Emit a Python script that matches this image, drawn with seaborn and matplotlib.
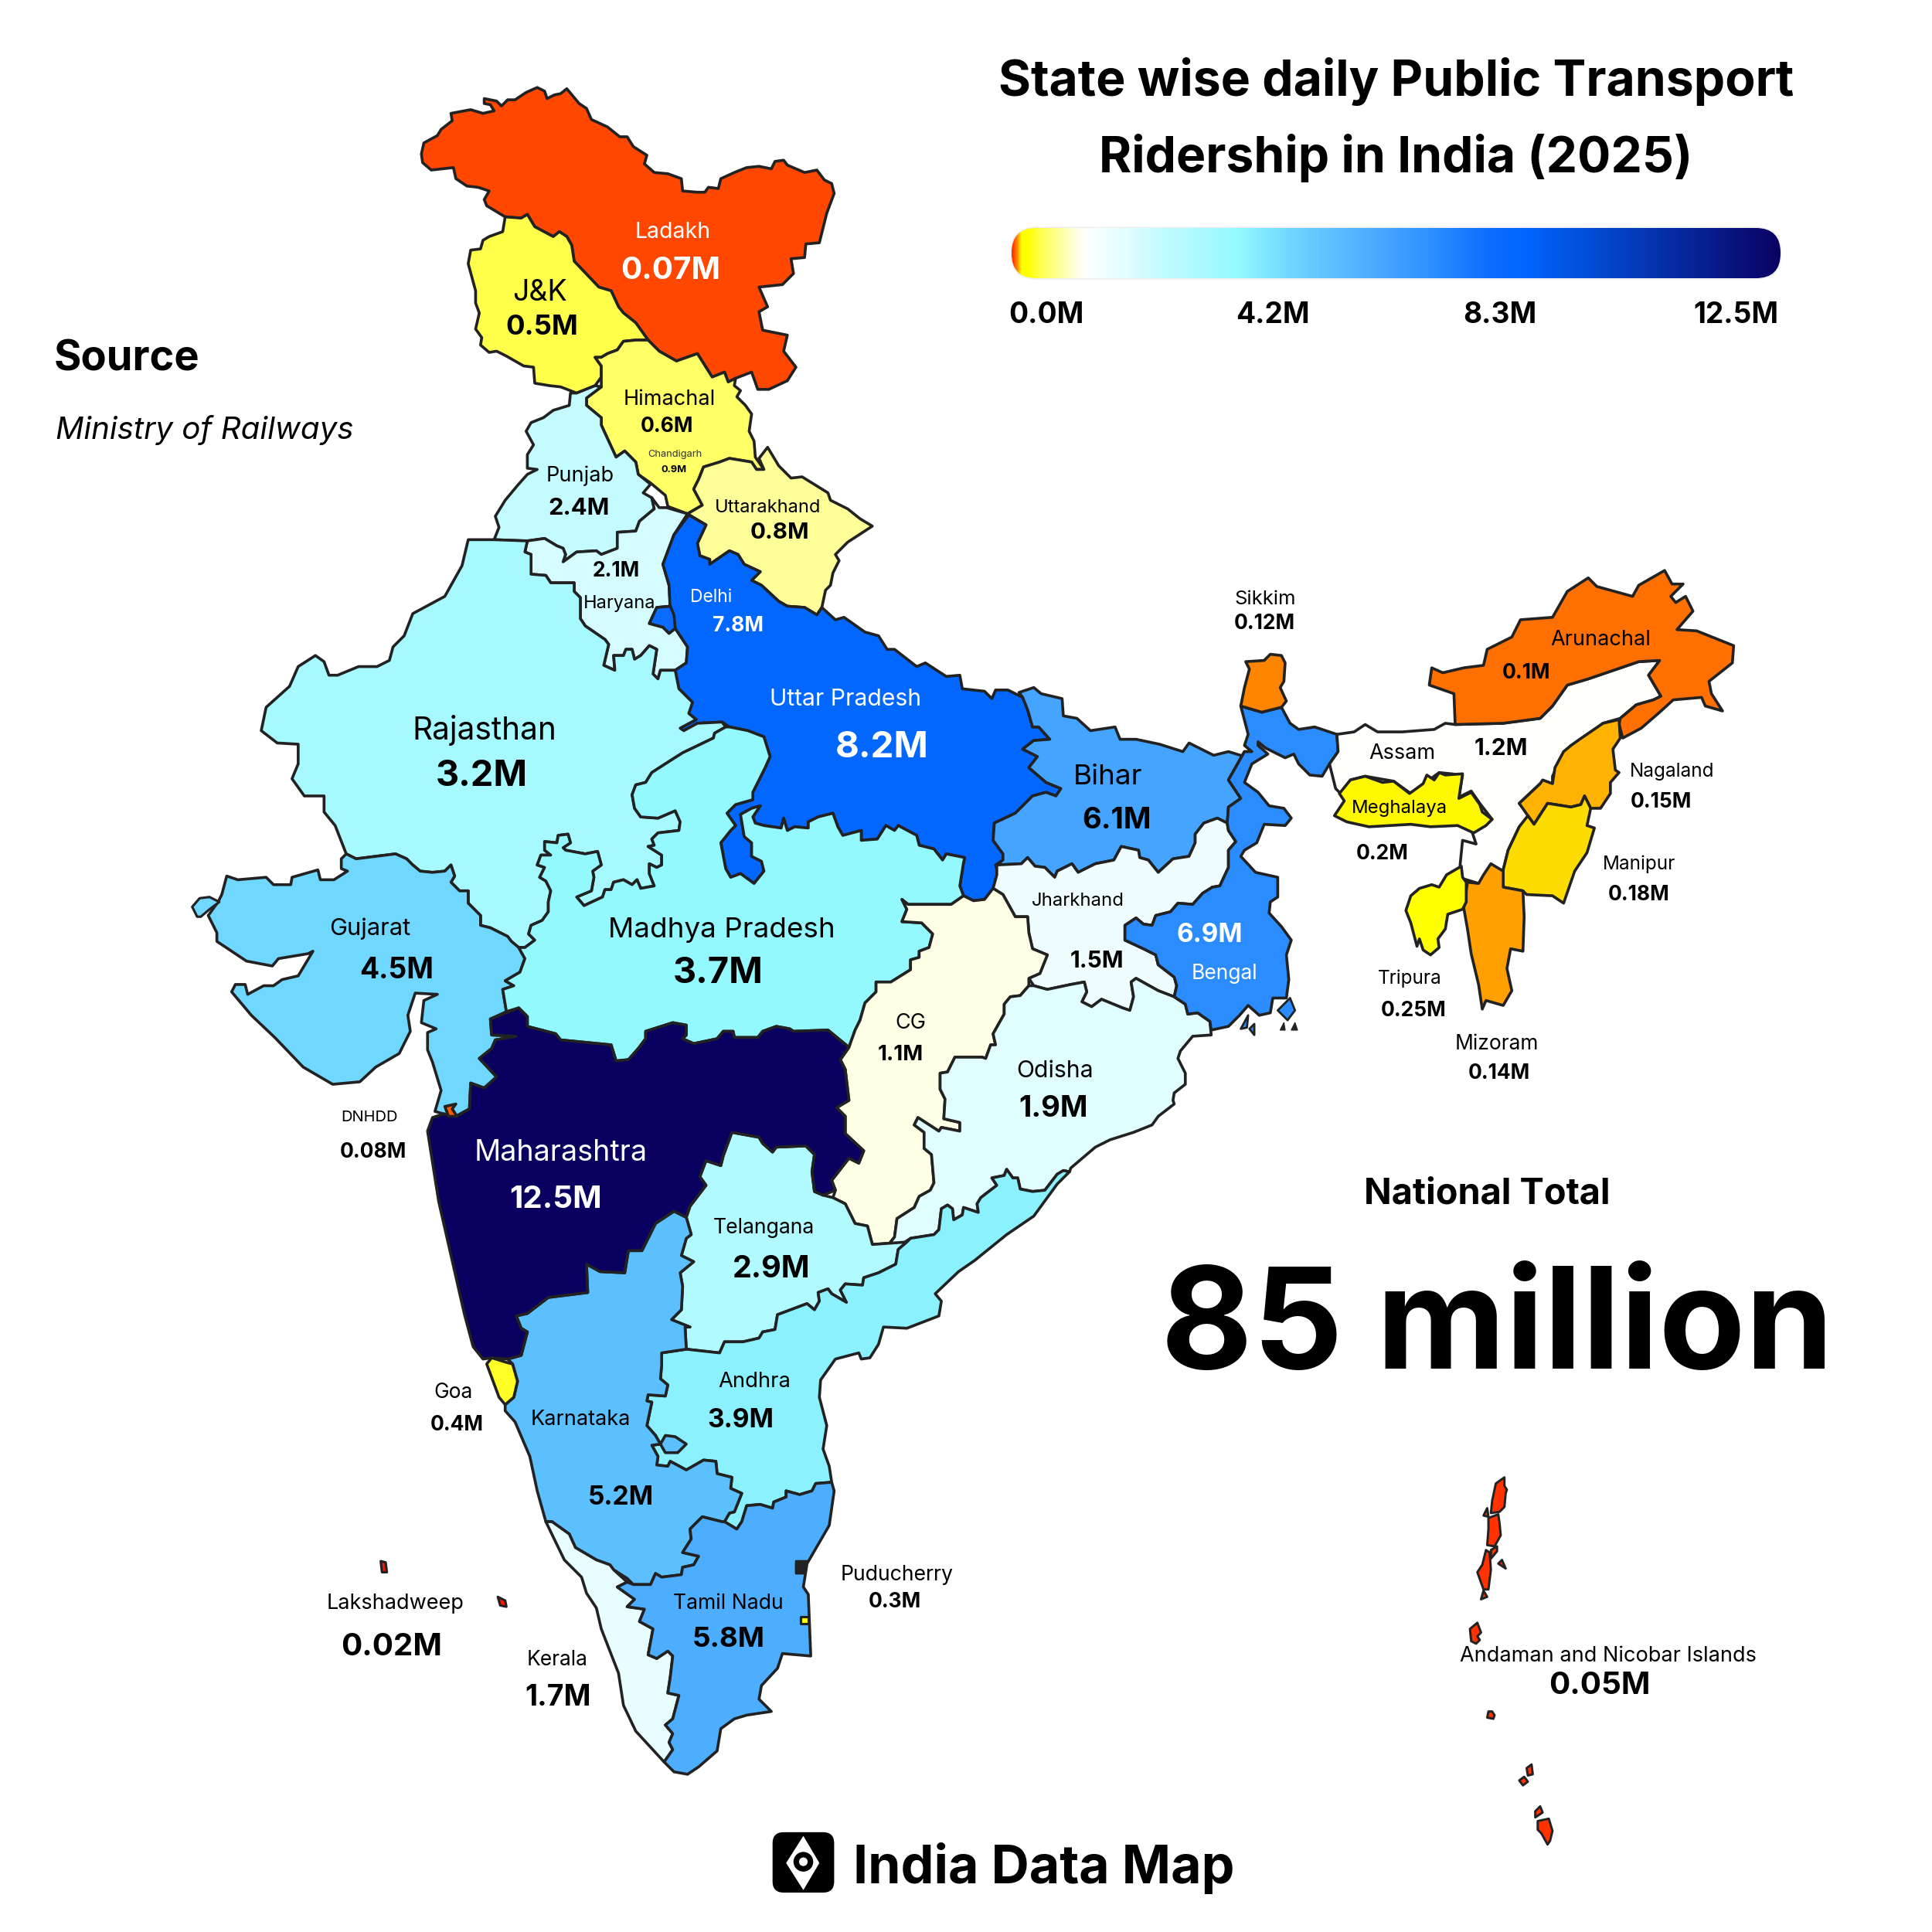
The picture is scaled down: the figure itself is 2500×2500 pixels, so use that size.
import matplotlib
matplotlib.use("Agg")
import matplotlib.pyplot as plt
import numpy as np
import seaborn as sns
from matplotlib.colors import LinearSegmentedColormap, Normalize
from matplotlib.patches import Circle, FancyBboxPatch, Polygon

# state outlines (map units, y grows downward)
LADAKH = [(342,125),(344,116),(355,110),(358,105),(367,98),(366,92),(382,89),(392,92),(401,90),(398,85),(393,84),(393,80),(403,82),(407,86),(412,81),(418,81),(427,75),(436,71),(442,74),(444,80),(450,77),(455,76),(460,72),(470,84),(476,88),(480,97),(493,103),(503,111),(509,111),(514,119),(525,126),(523,133),(531,140),(542,141),(553,145),(554,155),(566,156),(572,156),(575,152),(583,153),(585,145),(596,140),(606,136),(616,135),(626,137),(629,131),(636,130),(639,134),(653,140),(663,138),(669,146),(675,149),(677,157),(671,173),(665,197),(654,198),(653,209),(642,210),(644,222),(635,231),(616,233),(623,249),(616,253),(619,268),(639,272),(636,285),(646,298),(639,309),(624,316),(615,316),(610,302),(597,307),(591,310),(588,302),(578,306),(566,287),(549,293),(535,285),(526,276),(516,262),(506,254),(502,249),(496,236),(486,233),(466,212),(464,199),(460,192),(454,188),(449,192),(434,184),(428,174),(423,177),(410,176),(395,167),(393,162),(397,155),(388,152),(379,151),(370,145),(368,136),(359,137),(350,138),(343,132)]
JK = [(410,176),(423,177),(428,174),(434,184),(449,192),(454,188),(460,192),(464,199),(466,212),(486,233),(496,236),(502,249),(506,254),(516,262),(526,276),(516,276),(506,277),(501,284),(493,287),(488,290),(483,290),(488,297),(488,306),(483,313),(468,319),(455,314),(446,313),(434,311),(433,298),(425,297),(411,289),(403,285),(397,286),(390,280),(391,274),(386,267),(389,254),(386,246),(386,236),(380,214),(382,203),(390,202),(392,195),(397,192),(408,188)]
HIMACHAL = [(526,276),(535,285),(549,293),(566,287),(578,306),(588,302),(591,310),(597,307),(596,313),(601,317),(598,322),(605,329),(610,336),(608,350),(612,358),(613,371),(620,381),(614,381),(610,375),(592,372),(584,375),(571,379),(567,389),(563,397),(570,410),(558,417),(542,411),(540,402),(528,392),(518,385),(516,375),(507,366),(500,371),(494,358),(488,345),(488,339),(476,329),(476,323),(488,314),(488,306),(488,297),(483,290),(488,290),(493,287),(501,284),(506,277),(516,276)]
PUNJAB = [(463,319),(462,329),(449,333),(441,339),(431,343),(427,350),(433,361),(428,369),(428,380),(436,381),(428,385),(420,394),(410,406),(402,419),(405,428),(401,438),(428,439),(442,437),(452,443),(457,445),(459,450),(457,456),(468,448),(484,447),(488,450),(501,445),(501,432),(516,431),(519,423),(531,413),(529,404),(522,400),(528,393),(518,385),(516,375),(507,366),(500,371),(494,358),(488,345),(488,339),(476,329),(476,323),(488,314),(483,313),(468,319)]
HARYANA = [(428,439),(442,437),(452,443),(457,445),(459,450),(457,456),(468,448),(484,447),(488,450),(501,445),(501,432),(516,431),(519,423),(531,413),(529,404),(535,412),(541,412),(558,417),(547,434),(538,458),(543,475),(544,492),(533,493),(527,506),(538,509),(543,514),(548,510),(558,525),(557,538),(548,544),(536,544),(534,551),(530,547),(533,527),(527,524),(520,532),(515,535),(513,527),(508,527),(506,532),(498,532),(499,544),(490,540),(494,523),(491,519),(475,508),(471,502),(471,485),(466,480),(466,473),(447,473),(443,467),(431,466),(431,450),(426,448)]
UTTARAKHAND = [(620,381),(616,372),(623,363),(632,378),(642,388),(651,387),(672,400),(674,406),(688,413),(698,421),(708,427),(688,440),(678,450),(681,455),(676,465),(674,475),(670,479),(667,493),(663,499),(653,493),(639,492),(632,488),(618,475),(610,471),(617,464),(604,458),(599,450),(592,447),(576,458),(576,454),(568,451),(566,441),(573,426),(558,417),(570,410),(563,397),(567,389),(571,379),(584,375),(592,372),(610,375),(614,381)]
UTTAR_PRADESH = [(559,418),(573,426),(566,441),(568,451),(576,454),(576,458),(592,447),(599,450),(604,458),(617,464),(610,471),(618,475),(632,488),(639,492),(653,493),(663,499),(667,493),(678,503),(685,501),(702,513),(713,516),(720,527),(726,527),(744,541),(751,538),(768,549),(779,548),(781,559),(799,561),(805,567),(808,560),(818,560),(830,566),(834,576),(838,590),(843,590),(852,600),(839,601),(830,608),(842,614),(835,623),(849,635),(861,640),(857,646),(849,643),(838,646),(824,660),(807,668),(806,682),(814,693),(814,698),(808,702),(810,709),(807,720),(799,730),(790,731),(782,727),(779,719),(782,700),(783,696),(768,693),(765,698),(758,689),(746,686),(744,678),(729,670),(726,674),(719,670),(712,681),(699,682),(699,674),(684,678),(680,671),(676,660),(664,663),(656,667),(656,672),(645,671),(639,674),(636,664),(634,672),(620,670),(613,668),(611,663),(617,654),(610,656),(601,661),(604,679),(610,684),(610,695),(618,699),(620,707),(612,717),(601,709),(593,712),(589,705),(585,684),(593,674),(597,670),(590,660),(597,653),(611,649),(611,643),(621,623),(625,614),(620,598),(607,593),(592,590),(586,586),(566,587),(555,593),(552,591),(565,584),(559,579),(562,570),(551,559),(548,544),(557,538),(558,525),(548,510),(544,497),(543,475),(538,458),(547,434)]
DELHI = [(544,492),(533,493),(527,506),(538,509),(543,514),(548,510),(547,499)]
RAJASTHAN = [(380,438),(401,438),(428,439),(426,448),(431,450),(431,466),(443,467),(447,473),(466,473),(466,480),(471,485),(471,502),(475,508),(491,519),(494,523),(490,540),(499,544),(498,532),(506,532),(508,527),(513,527),(515,535),(520,532),(527,524),(533,527),(530,547),(534,551),(536,544),(548,544),(551,559),(562,570),(559,579),(565,584),(552,591),(555,593),(566,587),(586,586),(589,590),(580,595),(579,599),(554,611),(543,618),(529,627),(524,635),(516,637),(513,645),(515,656),(520,663),(534,664),(548,658),(552,667),(551,674),(534,676),(529,681),(531,686),(526,687),(537,694),(537,702),(533,704),(527,701),(527,709),(531,719),(520,721),(517,714),(513,718),(506,714),(498,716),(496,722),(491,722),(489,728),(474,735),(468,728),(480,723),(482,712),(481,707),(488,702),(485,691),(475,693),(459,690),(457,688),(463,684),(461,677),(453,678),(452,684),(442,683),(442,690),(447,694),(439,694),(436,702),(442,704),(438,712),(443,715),(447,723),(445,732),(445,740),(440,747),(431,751),(429,758),(434,763),(426,769),(421,769),(415,764),(412,760),(398,753),(390,751),(390,743),(380,733),(380,723),(373,723),(366,716),(369,711),(366,702),(361,707),(351,708),(341,707),(335,702),(330,697),(321,693),(305,695),(289,697),(281,693),(272,670),(263,659),(263,646),(247,646),(237,632),(242,620),(242,604),(225,603),(212,593),(216,574),(235,557),(242,541),(256,532),(263,537),(267,548),(274,548),(291,541),(306,541),(316,536),(319,525),(328,516),(335,498),(361,484),(375,459)]
GUJARAT = [(281,693),(277,697),(277,705),(282,707),(271,714),(260,714),(258,706),(237,712),(236,718),(222,718),(216,712),(193,714),(184,711),(180,726),(177,732),(169,743),(176,757),(176,764),(200,780),(221,784),(226,778),(250,774),(254,772),(242,792),(229,795),(222,800),(214,800),(201,807),(199,799),(191,799),(188,805),(204,824),(223,842),(246,866),(270,880),(292,878),(305,866),(324,855),(333,837),(331,824),(337,806),(355,807),(344,812),(342,830),(354,835),(347,838),(347,852),(351,862),(358,885),(353,902),(360,904),(370,906),(381,900),(382,879),(393,883),(403,874),(389,859),(399,851),(402,844),(419,841),(399,840),(398,827),(411,821),(408,803),(417,800),(410,796),(422,789),(426,778),(421,769),(415,764),(412,760),(398,753),(390,751),(390,743),(380,733),(380,723),(373,723),(366,716),(369,711),(366,702),(361,707),(351,708),(341,707),(335,702),(330,697),(321,693),(305,695),(289,697)]
KUTCH_ISLETS = [(156,736),(162,729),(170,728),(178,732),(170,738),(163,744),(160,744)]
MADHYA_PRADESH = [(421,769),(426,769),(434,763),(429,758),(431,751),(440,747),(445,740),(445,732),(447,723),(443,715),(438,712),(442,704),(436,702),(439,694),(447,694),(442,690),(442,683),(452,684),(453,678),(461,677),(463,684),(457,688),(459,690),(475,693),(485,691),(488,702),(481,707),(482,712),(480,723),(468,728),(474,735),(489,728),(491,722),(496,722),(498,716),(506,714),(513,718),(517,714),(520,721),(531,719),(527,709),(527,701),(533,704),(537,702),(537,694),(526,687),(531,686),(529,681),(534,676),(551,674),(552,667),(548,658),(534,664),(520,663),(515,656),(513,645),(516,637),(524,635),(529,627),(543,618),(554,611),(579,599),(580,595),(589,590),(592,590),(607,593),(620,598),(625,614),(621,623),(611,643),(611,649),(597,653),(590,660),(597,670),(593,674),(585,684),(589,705),(593,712),(601,709),(612,717),(620,707),(618,699),(610,695),(610,684),(604,679),(601,661),(610,656),(617,654),(611,663),(613,668),(620,670),(634,672),(636,664),(639,674),(645,671),(656,672),(656,667),(664,663),(676,660),(680,671),(684,678),(699,674),(699,682),(712,681),(719,670),(726,674),(729,670),(744,678),(746,686),(758,689),(765,698),(768,693),(783,696),(782,700),(779,719),(782,727),(772,734),(737,734),(732,730),(736,738),(732,748),(748,749),(757,758),(754,769),(746,772),(746,777),(739,779),(739,787),(723,797),(711,797),(711,805),(702,814),(698,828),(694,836),(689,850),(672,836),(644,837),(641,835),(630,833),(619,837),(615,842),(596,842),(595,837),(587,837),(582,843),(563,847),(554,843),(557,840),(557,832),(546,830),(524,837),(524,843),(518,851),(510,860),(500,861),(496,848),(455,844),(451,839),(428,833),(428,825),(421,818),(411,821),(408,803),(417,800),(410,796),(422,789),(426,778)]
BIHAR = [(827,562),(839,558),(845,563),(862,567),(863,581),(874,583),(885,593),(905,590),(909,600),(922,600),(941,604),(960,610),(965,603),(985,613),(997,610),(1010,614),(1017,610),(1010,610),(997,633),(1007,648),(997,655),(996,668),(988,664),(977,668),(970,677),(970,684),(965,695),(952,697),(940,708),(932,698),(925,696),(924,690),(910,687),(904,698),(889,701),(875,708),(870,701),(858,707),(856,712),(848,704),(840,703),(834,696),(829,701),(809,702),(814,698),(814,693),(806,682),(807,668),(824,660),(838,646),(849,643),(857,646),(861,640),(849,635),(835,623),(842,614),(830,608),(839,601),(852,600),(843,590),(838,590),(834,576),(830,566)]
JHARKHAND = [(809,702),(829,701),(834,696),(840,703),(848,704),(856,712),(858,707),(870,701),(875,708),(889,701),(904,698),(910,687),(924,690),(925,696),(932,698),(940,708),(952,697),(965,695),(970,684),(970,677),(977,668),(988,664),(996,668),(997,674),(1003,683),(997,690),(997,704),(990,719),(984,720),(976,725),(968,734),(956,733),(950,740),(938,743),(935,751),(928,750),(922,745),(913,751),(913,763),(928,770),(938,775),(940,783),(953,793),(955,800),(953,809),(940,804),(922,794),(918,797),(920,809),(917,820),(911,818),(894,811),(886,817),(878,813),(882,805),(880,797),(869,799),(850,803),(839,800),(835,794),(844,790),(850,775),(838,770),(835,757),(834,744),(824,744),(814,726),(806,721),(809,710)]
CHHATTISGARH = [(772,734),(782,727),(790,731),(799,730),(806,721),(814,726),(824,744),(834,744),(835,757),(838,770),(850,775),(844,790),(835,794),(835,800),(828,808),(820,809),(815,815),(815,823),(806,839),(808,848),(804,848),(800,859),(797,858),(775,858),(769,870),(763,871),(763,884),(767,892),(766,908),(779,911),(779,918),(764,915),(762,918),(745,907),(742,913),(750,919),(750,932),(756,937),(758,960),(755,966),(746,971),(742,980),(728,989),(726,1004),(722,1009),(708,1010),(704,995),(694,993),(686,977),(676,972),(678,966),(675,958),(689,940),(697,944),(701,934),(686,920),(686,906),(679,899),(689,893),(686,868),(682,860),(689,850),(694,836),(698,828),(702,814),(711,805),(711,797),(723,797),(739,787),(739,779),(746,777),(746,772),(754,769),(757,758),(748,749),(732,748),(736,738),(732,730),(737,734)]
ODISHA = [(839,800),(850,803),(869,799),(880,797),(882,805),(878,813),(886,817),(894,811),(911,818),(917,820),(920,809),(918,797),(922,794),(940,804),(953,809),(962,815),(964,823),(972,822),(982,829),(983,840),(968,841),(958,853),(956,859),(962,871),(962,880),(953,887),(952,893),(953,896),(940,906),(935,913),(920,919),(901,925),(889,931),(869,948),(868,951),(863,950),(858,953),(848,966),(838,967),(828,965),(826,956),(822,956),(817,949),(815,954),(805,956),(809,962),(796,972),(793,977),(794,984),(782,980),(781,986),(774,990),(773,981),(769,978),(764,981),(762,998),(758,1002),(739,1005),(733,1009),(722,1009),(726,1004),(728,989),(742,980),(746,971),(755,966),(758,960),(756,937),(750,932),(750,919),(742,913),(745,907),(762,918),(764,915),(779,918),(779,911),(766,908),(767,892),(763,884),(763,871),(769,870),(775,858),(797,858),(800,859),(804,848),(808,848),(806,839),(815,823),(815,815),(820,809),(828,808),(835,800)]
WEST_BENGAL = [(1007,573),(1024,578),(1040,574),(1047,587),(1054,592),(1067,590),(1085,596),(1086,610),(1079,620),(1073,630),(1063,629),(1054,620),(1050,612),(1043,615),(1027,607),(1021,602),(1021,605),(1029,612),(1016,620),(1010,635),(1021,643),(1030,654),(1042,656),(1048,664),(1043,670),(1026,669),(1020,684),(1010,690),(1007,695),(1019,708),(1037,712),(1037,728),(1031,732),(1030,741),(1040,752),(1048,763),(1044,775),(1046,795),(1044,810),(1033,810),(1031,822),(1022,824),(1013,816),(1006,824),(997,833),(983,836),(982,829),(972,822),(964,823),(962,815),(953,809),(955,800),(953,793),(940,783),(938,775),(928,770),(913,763),(913,751),(922,745),(928,750),(935,751),(938,743),(950,740),(956,733),(968,734),(976,725),(984,720),(990,719),(997,704),(997,690),(1003,683),(997,674),(996,668),(997,655),(1007,648),(997,633),(1010,610),(1016,610),(1010,605),(1013,596)]
BENGAL_ISLETS = [[(1037,820),(1047,810),(1051,820),(1045,828)], [(1007,835),(1013,824),(1012,834)], [(1014,835),(1018,831),(1018,840)]]
BENGAL_SPECKS = [[(1039,836),(1042,830),(1043,836)], [(1048,836),(1051,830),(1053,836)]]
SIKKIM = [(1011,537),(1026,536),(1031,531),(1040,532),(1043,538),(1042,553),(1039,558),(1044,569),(1040,574),(1024,578),(1007,573),(1010,558),(1014,543)]
ASSAM = [(1085,596),(1099,594),(1108,588),(1118,594),(1138,594),(1151,593),(1164,592),(1173,587),(1181,588),(1220,587),(1250,583),(1260,573),(1272,556),(1289,551),(1330,537),(1347,536),(1338,548),(1348,565),(1342,568),(1328,572),(1315,583),(1301,587),(1282,602),(1275,605),(1266,617),(1260,630),(1260,636),(1250,636),(1233,652),(1241,662),(1233,671),(1224,690),(1220,706),(1210,706),(1200,717),(1187,713),(1185,702),(1187,682),(1198,685),(1195,676),(1211,665),(1201,652),(1194,642),(1184,647),(1187,629),(1168,627),(1145,644),(1131,634),(1108,630),(1096,633),(1088,644),(1084,640),(1079,620),(1086,610)]
ARUNACHAL = [(1181,588),(1180,563),(1160,556),(1162,542),(1171,546),(1188,542),(1204,540),(1207,527),(1227,517),(1234,503),(1260,501),(1272,480),(1289,469),(1296,476),(1325,484),(1330,475),(1351,463),(1357,474),(1366,474),(1356,484),(1360,489),(1368,484),(1374,496),(1361,511),(1377,512),(1407,524),(1406,538),(1387,553),(1389,563),(1398,577),(1384,573),(1381,566),(1358,568),(1347,578),(1332,591),(1317,599),(1314,588),(1315,583),(1328,572),(1342,568),(1348,565),(1338,548),(1347,536),(1330,537),(1289,551),(1272,556),(1260,573),(1250,583),(1220,587)]
NAGALAND = [(1314,584),(1315,599),(1309,608),(1311,625),(1314,627),(1307,635),(1307,644),(1299,656),(1291,656),(1286,646),(1283,653),(1275,655),(1256,652),(1245,669),(1240,662),(1233,652),(1250,636),(1252,633),(1260,636),(1262,623),(1269,610),(1275,605),(1282,600),(1301,587)]
MANIPUR = [(1256,652),(1275,655),(1283,653),(1286,646),(1291,656),(1288,670),(1294,672),(1288,692),(1278,707),(1269,733),(1260,727),(1239,726),(1236,723),(1220,720),(1220,706),(1224,690),(1233,671),(1240,662),(1245,669)]
MIZORAM = [(1220,707),(1220,720),(1236,723),(1237,744),(1236,772),(1226,770),(1223,786),(1227,804),(1220,816),(1206,812),(1203,819),(1200,799),(1194,774),(1191,754),(1188,737),(1191,716),(1200,717),(1204,710),(1210,701)]
TRIPURA = [(1186,703),(1187,712),(1190,716),(1190,732),(1187,738),(1175,742),(1173,754),(1167,762),(1168,769),(1161,775),(1155,771),(1152,762),(1150,768),(1145,749),(1141,739),(1145,727),(1152,721),(1162,718),(1168,720),(1174,710)]
MEGHALAYA = [(1083,662),(1091,650),(1087,644),(1096,633),(1108,630),(1122,635),(1131,634),(1144,644),(1155,636),(1158,629),(1164,633),(1168,627),(1173,629),(1187,628),(1184,648),(1194,643),(1201,653),(1203,659),(1211,665),(1206,670),(1196,676),(1183,670),(1161,671),(1145,669),(1111,671),(1093,667)]
MAHARASHTRA = [(398,827),(421,818),(428,825),(428,833),(451,839),(455,844),(496,848),(500,861),(510,860),(518,851),(524,843),(524,837),(546,830),(557,832),(557,840),(554,843),(563,847),(582,843),(587,837),(595,837),(596,842),(615,842),(619,837),(630,833),(641,835),(644,837),(672,836),(689,850),(682,860),(686,868),(689,893),(679,899),(686,906),(686,920),(701,934),(697,944),(689,940),(675,958),(678,966),(668,970),(661,967),(659,951),(661,937),(654,930),(630,931),(627,935),(619,928),(616,923),(594,919),(587,938),(585,946),(573,942),(568,955),(573,962),(560,979),(557,988),(547,983),(532,993),(521,1015),(510,1015),(507,1033),(487,1032),(476,1026),(477,1049),(445,1053),(428,1066),(419,1068),(423,1078),(428,1081),(423,1100),(412,1103),(399,1102),(392,1103),(384,1093),(377,1067),(356,975),(347,918),(351,907),(360,904),(370,906),(381,900),(382,879),(393,883),(403,874),(389,859),(399,851),(402,844),(419,841),(399,840)]
TELANGANA = [(594,919),(616,923),(619,928),(627,935),(630,931),(654,930),(661,937),(659,951),(661,967),(668,970),(676,972),(686,977),(694,993),(704,995),(708,1010),(722,1009),(736,1008),(729,1014),(727,1026),(713,1033),(701,1037),(700,1043),(686,1042),(682,1047),(687,1057),(675,1050),(672,1046),(664,1049),(665,1056),(661,1063),(655,1058),(631,1067),(629,1079),(619,1081),(616,1086),(603,1089),(588,1089),(584,1098),(557,1095),(556,1077),(560,1077),(545,1071),(553,1063),(554,1044),(552,1033),(563,1024),(553,1019),(557,1005),(561,1002),(557,988),(560,979),(573,962),(568,955),(573,942),(585,946),(587,938)]
ANDHRA = [(736,1008),(739,1005),(758,1002),(762,998),(764,981),(769,978),(773,981),(774,990),(781,986),(782,980),(794,984),(793,977),(796,972),(809,962),(805,956),(815,954),(817,949),(822,956),(826,956),(828,965),(838,967),(848,966),(858,953),(863,950),(868,951),(858,961),(839,987),(817,1002),(791,1023),(778,1032),(759,1050),(764,1056),(762,1068),(736,1078),(717,1077),(713,1091),(706,1102),(699,1103),(697,1098),(678,1103),(666,1120),(665,1134),(671,1157),(668,1176),(673,1190),(675,1203),(662,1204),(659,1210),(649,1213),(638,1210),(638,1215),(628,1219),(627,1224),(617,1221),(606,1222),(602,1235),(598,1241),(588,1235),(592,1228),(596,1227),(602,1212),(593,1208),(594,1199),(582,1196),(581,1186),(571,1185),(557,1193),(544,1186),(542,1190),(533,1189),(534,1182),(529,1173),(536,1172),(532,1165),(525,1157),(529,1138),(525,1137),(526,1132),(540,1133),(542,1124),(536,1119),(537,1108),(537,1098),(557,1095),(584,1098),(588,1089),(603,1089),(616,1086),(619,1081),(629,1079),(631,1067),(655,1058),(661,1063),(665,1056),(664,1049),(672,1046),(675,1050),(687,1057),(682,1047),(686,1042),(700,1043),(701,1037),(713,1033),(727,1026),(729,1014)]
KARNATAKA = [(547,983),(557,988),(561,1002),(557,1005),(553,1019),(563,1024),(552,1033),(554,1044),(553,1063),(545,1071),(560,1077),(556,1077),(557,1095),(537,1098),(537,1108),(536,1119),(542,1124),(540,1133),(526,1132),(525,1137),(529,1138),(525,1157),(532,1165),(536,1172),(529,1173),(534,1182),(533,1189),(542,1190),(544,1186),(557,1193),(571,1185),(581,1186),(582,1196),(594,1199),(593,1208),(602,1212),(596,1227),(592,1228),(588,1235),(586,1235),(570,1231),(560,1241),(561,1249),(554,1260),(567,1263),(563,1270),(554,1272),(553,1278),(537,1280),(532,1277),(528,1286),(514,1286),(509,1281),(498,1274),(495,1270),(484,1266),(467,1256),(462,1245),(448,1235),(443,1235),(436,1210),(430,1182),(418,1154),(410,1145),(410,1140),(417,1134),(420,1121),(416,1107),(412,1103),(423,1100),(428,1081),(423,1078),(419,1068),(428,1066),(445,1053),(477,1049),(476,1026),(487,1032),(507,1033),(510,1015),(521,1015),(532,993)]
KARNATAKA_ENCLAVE = [(536,1172),(540,1165),(548,1166),(557,1172),(550,1179),(540,1179)]
GOA = [(399,1102),(412,1106),(416,1107),(420,1121),(417,1134),(410,1140),(405,1134),(395,1107)]
KERALA = [(443,1235),(448,1235),(462,1245),(467,1256),(484,1266),(495,1270),(498,1274),(509,1284),(501,1288),(515,1298),(509,1304),(523,1306),(519,1316),(530,1322),(526,1343),(533,1346),(542,1340),(546,1344),(544,1361),(542,1374),(551,1376),(546,1395),(540,1400),(546,1407),(543,1414),(546,1420),(539,1430),(516,1405),(506,1384),(502,1358),(488,1322),(484,1305),(476,1293),(472,1280),(458,1266)]
TAMIL_NADU = [(588,1235),(586,1235),(570,1231),(560,1241),(561,1249),(554,1260),(567,1263),(563,1270),(554,1272),(553,1278),(537,1280),(532,1277),(528,1286),(514,1286),(509,1284),(501,1288),(515,1298),(509,1304),(523,1306),(519,1316),(530,1322),(526,1343),(533,1346),(542,1340),(546,1344),(544,1361),(542,1374),(551,1376),(546,1395),(540,1400),(546,1407),(543,1414),(546,1420),(539,1430),(547,1438),(558,1440),(567,1434),(582,1421),(585,1403),(596,1395),(606,1392),(626,1389),(616,1379),(618,1368),(631,1354),(635,1342),(658,1344),(656,1294),(652,1288),(655,1269),(673,1238),(677,1210),(675,1203),(662,1204),(659,1210),(649,1213),(638,1210),(638,1215),(628,1219),(627,1224),(617,1221),(606,1222),(602,1235),(598,1241)]
DNHDD = [(361,898),(370,896),(367,900),(371,906),(364,906)]
PUDUCHERRY = [(646,1267),(655,1267),(653,1277),(646,1277)]
KARAIKAL = [(650,1312),(656,1312),(656,1318),(650,1318)]
LAKSHADWEEP = [[(309,1267),(313,1268),(314,1276),(310,1276)], [(404,1296),(410,1299),(411,1304),(406,1303)]]
ANDAMAN = [
    [(1221,1199),(1214,1204),(1211,1218),(1210,1228),(1217,1227),(1221,1223),(1222,1212),(1223,1209),(1221,1206)],
    [(1216,1229),(1208,1232),(1208,1241),(1207,1254),(1213,1255),(1218,1246),(1217,1236)],
    [(1206,1258),(1203,1270),(1199,1276),(1204,1290),(1208,1290),(1210,1274),(1209,1260)],
    [(1215,1255),(1210,1258),(1210,1265),(1215,1259)],
    [(1204,1291),(1202,1298),(1207,1296)],
    [(1207,1224),(1204,1230),(1208,1231)],
    [(1219,1266),(1216,1269),(1222,1273)],
    [(1199,1317),(1193,1322),(1194,1332),(1198,1334),(1201,1331),(1199,1328),(1202,1325)],
    [(1208,1389),(1207,1394),(1212,1395),(1213,1392),(1211,1389)],
    [(1243,1432),(1239,1435),(1240,1441),(1244,1440)],
    [(1237,1442),(1233,1445),(1236,1449),(1240,1446)],
    [(1250,1466),(1246,1470),(1246,1475),(1252,1471)],
    [(1248,1478),(1248,1485),(1251,1488),(1256,1497),(1258,1494),(1260,1486),(1257,1476)],
]

# daily ridership, millions
state_names = ["Ladakh", "J&K", "Himachal", "Punjab", "Haryana", "Uttarakhand", "Uttar Pradesh", "Delhi",
               "Rajasthan", "Gujarat", "Madhya Pradesh", "Bihar", "Jharkhand", "CG", "Odisha", "Bengal",
               "Sikkim", "Assam", "Arunachal", "Nagaland", "Manipur", "Mizoram", "Tripura", "Meghalaya",
               "Maharashtra", "Telangana", "Andhra", "Karnataka", "Goa", "Kerala", "Tamil Nadu", "DNHDD"]
state_values = ["0.07", "0.5", "0.6", "2.4", "2.1", "0.8", "8.2", "7.8",
                "3.2", "4.5", "3.7", "6.1", "1.5", "1.1", "1.9", "6.9",
                "0.12", "1.2", "0.1", "0.15", "0.18", "0.14", "0.25", "0.2",
                "12.5", "2.9", "3.9", "5.2", "0.4", "1.7", "5.8", "0.08"]
state_shapes = [LADAKH, JK, HIMACHAL, PUNJAB, HARYANA, UTTARAKHAND, UTTAR_PRADESH, DELHI,
                RAJASTHAN, GUJARAT, MADHYA_PRADESH, BIHAR, JHARKHAND, CHHATTISGARH, ODISHA, WEST_BENGAL,
                SIKKIM, ASSAM, ARUNACHAL, NAGALAND, MANIPUR, MIZORAM, TRIPURA, MEGHALAYA,
                TELANGANA, ANDHRA, KARNATAKA, GOA, KERALA, TAMIL_NADU, MAHARASHTRA, DNHDD]
shape_values = ["0.07", "0.5", "0.6", "2.4", "2.1", "0.8", "8.2", "7.8",
                "3.2", "4.5", "3.7", "6.1", "1.5", "1.1", "1.9", "6.9",
                "0.12", "1.2", "0.1", "0.15", "0.18", "0.14", "0.25", "0.2",
                "2.9", "3.9", "5.2", "0.4", "1.7", "5.8", "12.5", "0.08"]
colorbar_ticks = ["0.0M", "4.2M", "8.3M", "12.5M"]

# legend scale, value in millions -> colour
scale_values = [0.0, 0.05, 0.07, 0.1, 0.12, 0.14, 0.15, 0.18, 0.2, 0.3, 0.5, 0.8, 1.1, 1.2, 1.5, 1.9, 2.4, 3.2, 3.7, 4.5, 5.2, 5.8, 6.1, 6.9, 7.8, 8.3, 12.5]
scale_colors = ["#ff0000", "#ff3300", "#ff4a00", "#ff7300", "#ff8800", "#ffa800", "#ffb800", "#ffe000", "#ffff00", "#ffff00",
                "#ffff4d", "#ffff99", "#ffffe6", "#ffffff", "#f0fdff", "#e0fdff", "#c4fbff", "#a6f9ff", "#94f9ff",
                "#70d8ff", "#5cc0ff", "#4daeff", "#45a4ff", "#2a8cff", "#0a6cff", "#0066ff", "#0a005f"]

# name position and value position per state: (name x, y, size), (value x, y, size)
label_layout = {
    "Ladakh": ((546, 187, 8.2), (544, 218, 11.6)),
    "J&K": ((438, 236, 10.8), (440, 264, 10.5)),
    "Himachal": ((543, 323, 7.8), (541, 345, 7.6)),
    "Punjab": ((471, 385, 7.8), (470, 411, 8.9)),
    "Haryana": ((503, 489, 6.8), (500, 462, 7.6)),
    "Uttarakhand": ((623, 411, 6.8), (633, 431, 8.5)),
    "Uttar Pradesh": ((686, 566, 8.7), (716, 605, 13.7)),
    "Delhi": ((577, 484, 6.6), (599, 507, 7.6)),
    "Rajasthan": ((393, 591, 11.7), (391, 628, 13.5)),
    "Gujarat": ((300, 752, 8.9), (322, 786, 10.7)),
    "Madhya Pradesh": ((586, 753, 10.6), (583, 788, 13.5)),
    "Bihar": ((899, 629, 10.6), (906, 664, 11)),
    "Jharkhand": ((875, 730, 6.9), (890, 779, 8.6)),
    "CG": ((739, 829, 7.8), (731, 855, 8)),
    "Odisha": ((856, 868, 8.7), (855, 898, 11)),
    "Bengal": ((994, 789, 7.6), (982, 757, 9.6)),
    "Sikkim": ((1027, 485, 7.4), (1026, 505, 7.6)),
    "Assam": ((1138, 610, 7.8), (1218, 606, 8.6)),
    "Arunachal": ((1299, 518, 7.8), (1239, 545, 7.6)),
    "Nagaland": ((1357, 625, 7), (1348, 650, 7.6)),
    "Manipur": ((1330, 700, 7), (1330, 725, 7.6)),
    "Mizoram": ((1215, 846, 7.6), (1217, 870, 7.6)),
    "Tripura": ((1144, 793, 7), (1147, 819, 7.6)),
    "Meghalaya": ((1136, 655, 6.9), (1122, 692, 7.6)),
    "Maharashtra": ((455, 934, 10.9), (451, 972, 11.6)),
    "Telangana": ((620, 995, 7.7), (626, 1028, 11.4)),
    "Andhra": ((612, 1120, 7.9), (601, 1151, 9.7)),
    "Karnataka": ((471, 1151, 7.8), (504, 1214, 9.7)),
    "Goa": ((368, 1129, 7.6), (371, 1155, 7.6)),
    "Kerala": ((452, 1346, 7.6), (453, 1376, 10.8)),
    "Tamil Nadu": ((591, 1300, 7.7), (591, 1329, 10.6)),
    "DNHDD": ((300, 906, 5.8), (303, 934, 7.6)),
}
white_labels = ["Ladakh", "Uttar Pradesh", "Delhi", "Bengal", "Maharashtra"]

sns.set_theme(style="white")
plt.rcParams["font.family"] = ["Inter", "DejaVu Sans"]

cmap = LinearSegmentedColormap.from_list(
    "ridership", [(v / scale_values[-1], c) for v, c in zip(scale_values, scale_colors)], N=2048)
norm = Normalize(0, scale_values[-1])

fig = plt.figure(figsize=(10, 10), dpi=250, facecolor="white")
ax = fig.add_axes([0, 0, 1, 1])
ax.set_xlim(0, 1568)
ax.set_ylim(1568, 0)
ax.axis("off")

EDGE = "#222222"
LW = 1.05


def draw_shape(points, color, lw=LW):
    ax.add_patch(Polygon(points, closed=True, facecolor=color, edgecolor=EDGE, lw=lw, joinstyle="round"))


def put(x, y, s, size, color="black", weight="normal", **kw):
    # nudged down a little so the glyph centre sits where it does in the source
    ax.text(x, y + 0.17 * size, s, fontsize=size, color=color, fontweight=weight, ha="center", va="center", **kw)


for value, shape in zip(shape_values, state_shapes):
    draw_shape(shape, cmap(norm(float(value))))

draw_shape(KARNATAKA_ENCLAVE, cmap(norm(5.2)))
draw_shape(KUTCH_ISLETS, cmap(norm(4.5)), lw=0.9)
for shape in BENGAL_ISLETS:
    draw_shape(shape, cmap(norm(6.9)), lw=0.8)
for shape in BENGAL_SPECKS:
    draw_shape(shape, EDGE, lw=0.4)
draw_shape(PUDUCHERRY, EDGE, lw=0.8)
draw_shape(KARAIKAL, cmap(norm(0.3)), lw=0.9)
for shape in LAKSHADWEEP:
    draw_shape(shape, cmap(norm(0.02)), lw=0.9)
for shape in ANDAMAN:
    draw_shape(shape, cmap(norm(0.05)), lw=0.85)

for name, value in zip(state_names, state_values):
    (nx, ny, ns), (vx, vy, vs) = label_layout[name]
    color = "white" if name in white_labels else "black"
    put(nx, ny, name, ns, color=color)
    put(vx, vy, f"{value}M", vs, color=color, weight="bold")

# labels for places too small to hold them
put(548, 368, "Chandigarh", 3.7, color="#333333")
put(547, 381, "0.9M", 3.7, weight="bold")
put(728, 1277, "Puducherry", 7.7)
put(726, 1299, "0.3M", 7.6, weight="bold")
put(321, 1300, "Lakshadweep", 7.8)
put(318, 1335, "0.02M", 11.6, weight="bold")
put(1305, 1343, "Andaman and Nicobar Islands", 7.8)
put(1298, 1366, "0.05M", 11.6, weight="bold")

put(1133, 63, "State wise daily Public Transport", 18.5, weight="bold")
put(1133, 125, "Ridership in India (2025)", 18.5, weight="bold")
put(103, 289, "Source", 15.6, weight="bold")
put(166, 347, "Ministry of Railways", 11.6, style="italic")
put(1207, 967, "National Total", 13.5, weight="bold")
put(1215, 1072, "85 million", 52.7, weight="bold")
put(847, 1513, "India Data Map", 19.6, weight="bold")

# colour bar
bar_ax = fig.add_axes([819 / 1568, 1 - 228 / 1568, 628 / 1568, 45 / 1568])
gradient = np.linspace(0, scale_values[-1], 1024).reshape(1, -1)
sns.heatmap(gradient, ax=bar_ax, cmap=cmap, norm=norm, cbar=False, xticklabels=False, yticklabels=False)
bar_ax.axis("off")
frame = FancyBboxPatch((821, 185), 624, 41, boxstyle="round,pad=0,rounding_size=20",
                       transform=ax.transData, facecolor="none", edgecolor="#eeeeee", lw=0.8)
ax.add_patch(frame)
bar_ax.collections[0].set_clip_path(frame)

for tick, x in zip(colorbar_ticks, [849, 1033, 1217, 1409]):
    put(x, 254, tick, 10.7, weight="bold")

# logo
ax.add_patch(FancyBboxPatch((630, 1490), 44, 43, boxstyle="round,pad=3,rounding_size=9", facecolor="black", edgecolor="none"))
ax.add_patch(Polygon([(652, 1490), (665, 1512), (652, 1534), (638, 1512)], closed=True, facecolor="white", edgecolor="none"))
ax.add_patch(Circle((652, 1511), 8, facecolor="black", edgecolor="none"))
ax.add_patch(Circle((652, 1511), 3.5, facecolor="white", edgecolor="none"))

fig.savefig("out.png", dpi=250, facecolor="white")
